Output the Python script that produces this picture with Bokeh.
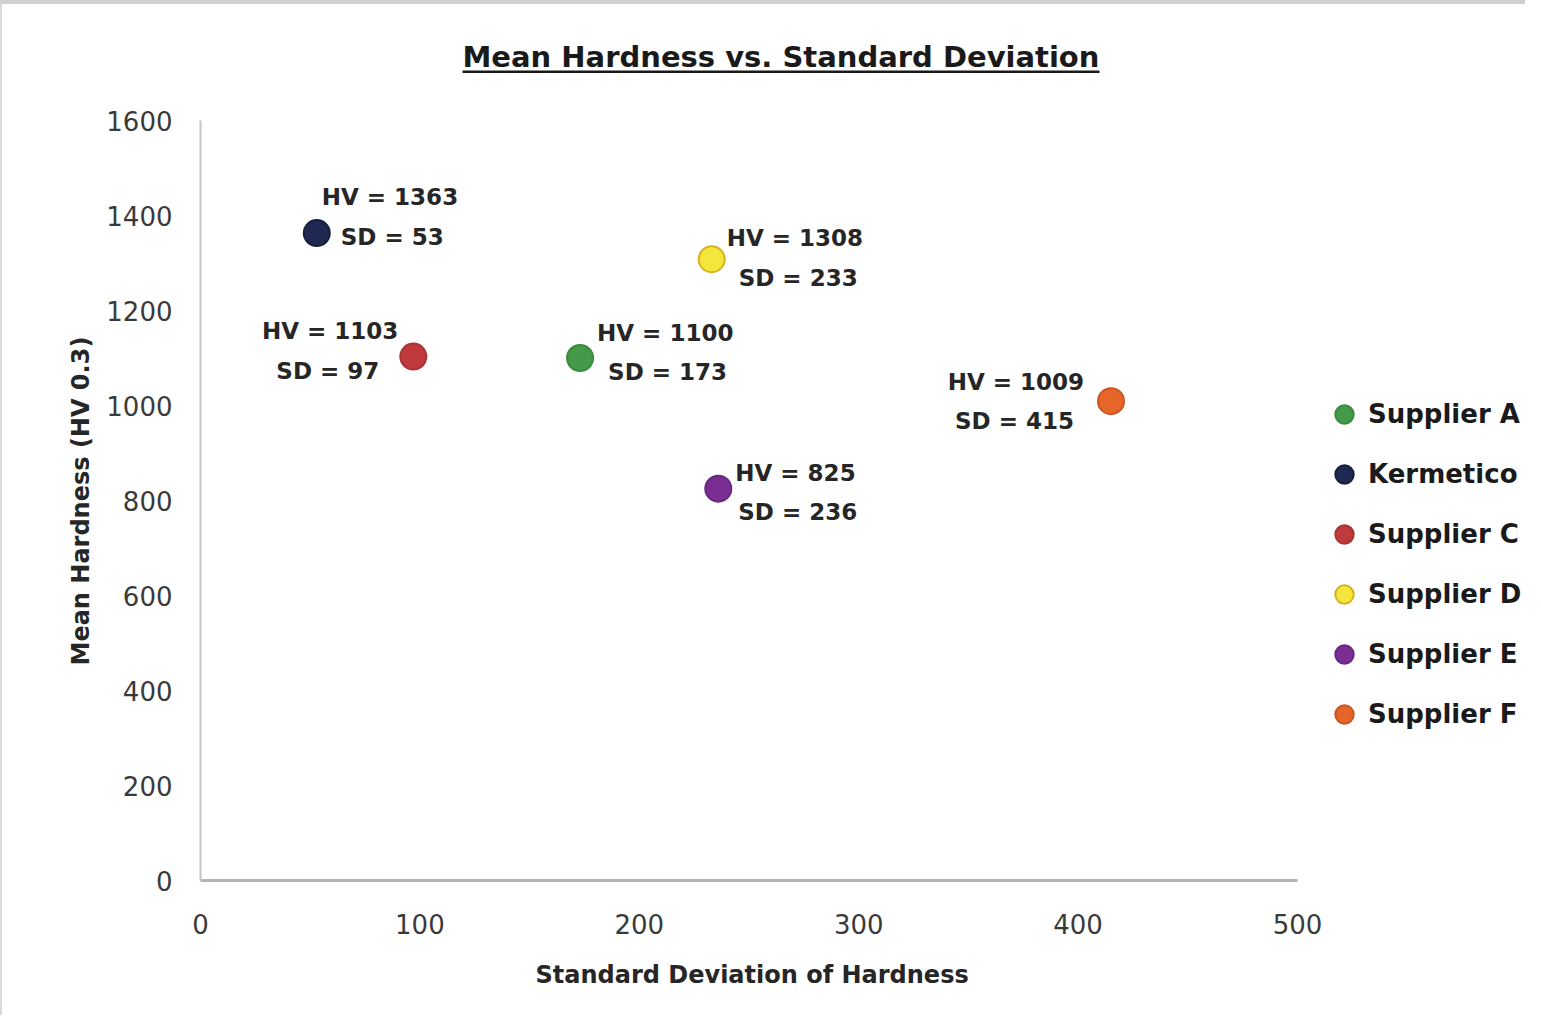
from bokeh.plotting import figure
from bokeh.models import (ColumnDataSource, Legend, LegendItem, FixedTicker,
                          BoxAnnotation, Title, Label)
from bokeh.core.properties import value
from bokeh.embed import file_html
from bokeh.resources import INLINE

# ---- data ----
suppliers = ["Supplier A", "Kermetico", "Supplier C", "Supplier D", "Supplier E", "Supplier F"]
std_dev = [173, 53, 97, 233, 236, 415]
mean_hv = [1100, 1363, 1103, 1308, 825, 1009]
hv_labels = ["HV = 1100", "HV = 1363", "HV = 1103", "HV = 1308", "HV = 825", "HV = 1009"]
sd_labels = ["SD = 173", "SD = 53", "SD = 97", "SD = 233", "SD = 236", "SD = 415"]
x_ticks = [0, 100, 200, 300, 400, 500]
y_ticks = [0, 200, 400, 600, 800, 1000, 1200, 1400, 1600]
title_text = "Mean Hardness vs. Standard Deviation"
x_label = "Standard Deviation  of Hardness"
y_label = "Mean Hardness  (HV 0.3)"

# ---- styles / layout ----
fill_colors = ["#439a48", "#1e2850", "#c03a3b", "#f4e63c", "#7a2e94", "#e5652a"]
line_colors = ["#3a8a40", "#18203f", "#a83234", "#d6b41c", "#6a2782", "#cc5522"]
hv_dx = [17, 5, -15, 15, 17, -27]
hv_dy = [-25, -36, -26, -21, -16, -19]
sd_dx = [28, 24, -34, 27, 20, -37]
sd_dy = [14, 4, 14, 19, 23, 20]
aligns = ["left", "left", "right", "left", "left", "right"]

W, H = 1525, 1015
LEFT, RIGHT, TOP, BOTTOM = 198, 2, 0, 139
AXIS_X_PX = 1097   # pixel length of the 0..500 axis
AXIS_Y_PX = 760    # pixel length of the 0..1600 axis
AX_LEFT_PAGE, AX_BOTTOM_PAGE = 200, 880
x_end = x_ticks[-1] * (W - LEFT - RIGHT) / AXIS_X_PX
y_end = y_ticks[-1] * (H - TOP - BOTTOM) / AXIS_Y_PX


def xdata(px):
    return (px - AX_LEFT_PAGE) * x_ticks[-1] / AXIS_X_PX


def ydata(py):
    return (AX_BOTTOM_PAGE - py) * y_ticks[-1] / AXIS_Y_PX


src = ColumnDataSource(dict(
    x=std_dev, y=mean_hv, name=suppliers, hv=hv_labels, sd=sd_labels,
    fill=fill_colors, line=line_colors,
    hv_dx=hv_dx, hv_dy=hv_dy, sd_dx=sd_dx, sd_dy=sd_dy, align=aligns,
))

p = figure(width=W, height=H, output_backend="svg", toolbar_location=None,
           x_range=(x_ticks[0], x_end), y_range=(y_ticks[0], y_end),
           min_border_left=LEFT, min_border_right=RIGHT, min_border_top=TOP, min_border_bottom=BOTTOM)
p.background_fill_color = "white"
p.border_fill_color = "white"
p.outline_line_color = None
p.grid.visible = False

for ax in (p.xaxis[0], p.yaxis[0]):
    ax.major_tick_line_color = None
    ax.minor_tick_line_color = None
    ax.major_tick_out = 0
    ax.major_tick_in = 0
    ax.major_label_text_font = "DejaVu Sans"
    ax.major_label_text_font_size = "26px"
    ax.major_label_text_color = "#3a3a3a"

p.xaxis.ticker = FixedTicker(ticks=x_ticks)
p.yaxis.ticker = FixedTicker(ticks=y_ticks)
p.xaxis.bounds = (x_ticks[0], x_ticks[-1])
p.yaxis.bounds = (y_ticks[0], y_ticks[-1])
p.xaxis.axis_line_color = "#b4b4b4"
p.xaxis.axis_line_width = 3
p.yaxis.axis_line_color = "#c4c4c4"
p.yaxis.axis_line_width = 2
p.xaxis.major_label_standoff = 33
p.yaxis.major_label_standoff = 28

# axis titles
xt = Title(text=x_label, align="left", offset=335, text_font="DejaVu Sans",
           text_font_size="24px", text_font_style="bold", text_color="#262626", standoff=44)
p.add_layout(xt, "below")
yt = Title(text=y_label, align="left", offset=215, text_font="DejaVu Sans",
           text_font_size="24px", text_font_style="bold", text_color="#262626", standoff=18)
p.add_layout(yt, "left")

# chart title with underline
p.add_layout(Label(x=xdata(462), y=ydata(56), text=title_text, text_align="left",
                   text_baseline="alphabetic", text_font="DejaVu Sans", text_font_size="29px",
                   text_font_style="bold", text_color="#1a1a1a"))
p.add_layout(BoxAnnotation(left=xdata(462), right=xdata(1099), top=ydata(70), bottom=ydata(72.5),
                           fill_color="#1a1a1a", fill_alpha=1, line_color=None))

r = p.scatter("x", "y", source=src, size=26, fill_color="fill", line_color="line", line_width=2)

p.text("x", "y", text="hv", source=src, x_offset="hv_dx", y_offset="hv_dy",
       text_align="align", text_baseline="middle", text_font=value("DejaVu Sans"),
       text_font_size="23px", text_font_style="bold", text_color="#262626")
p.text("x", "y", text="sd", source=src, x_offset="sd_dx", y_offset="sd_dy",
       text_align="align", text_baseline="middle", text_font=value("DejaVu Sans"),
       text_font_size="23px", text_font_style="bold", text_color="#262626")

items = [LegendItem(label=s, renderers=[r], index=i) for i, s in enumerate(suppliers)]
legend = Legend(items=items, location=(1121, 143))
legend.label_text_font = "DejaVu Sans"
legend.label_text_font_size = "26px"
legend.label_text_font_style = "bold"
legend.label_text_color = "#1a1a1a"
legend.glyph_width = 46
legend.glyph_height = 46
legend.label_height = 46
legend.spacing = 14
legend.padding = 0
legend.margin = 0
legend.label_standoff = 1
legend.border_line_color = None
legend.background_fill_alpha = 0
p.add_layout(legend)

p.styles = {"border-top": "4px solid #cfcfcf", "border-left": "2px solid #dadada"}

open("out.html", "w").write(file_html(p, INLINE))
